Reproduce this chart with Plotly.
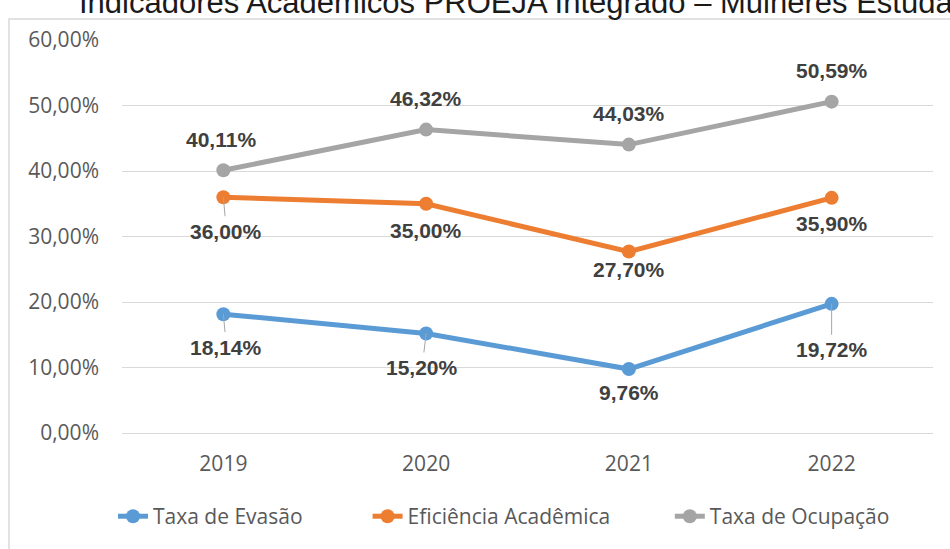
import plotly.graph_objects as go

# Indicadores acadêmicos por ano
anos = ["2019", "2020", "2021", "2022"]
taxa_evasao = [18.14, 15.20, 9.76, 19.72]
eficiencia_academica = [36.00, 35.00, 27.70, 35.90]
taxa_ocupacao = [40.11, 46.32, 44.03, 50.59]

titulo = "Indicadores Acadêmicos PROEJA Integrado – Mulheres Estudantes"

series = [
    ("Taxa de Evasão", taxa_evasao, "#5B9BD5"),
    ("Eficiência Acadêmica", eficiencia_academica, "#ED7D31"),
    ("Taxa de Ocupação", taxa_ocupacao, "#A5A5A5"),
]

# label placement per series: (x offset px, y offset px, leader line)
label_offsets = {
    "Taxa de Evasão": [(3, 33, True), (-4, 34, True), (0, 23, False), (0, 46, True)],
    "Eficiência Acadêmica": [(3, 34, True), (0, 27, False), (0, 18, False), (0, 26, False)],
    "Taxa de Ocupação": [(-2, -31, False), (0, -31, False), (0, -31, False), (0, -31, False)],
}
# extra room after each legend entry (non-breaking spaces)
legend_pad = {"Taxa de Evasão": 11, "Eficiência Acadêmica": 10, "Taxa de Ocupação": 0}

AXIS_FONT = dict(family="Open Sans", size=21, color="#595959")


def fmt_pct(v):
    return f"{v:.2f}".replace(".", ",") + "%"


fig = go.Figure()
annotations = []
for nome, valores, cor in series:
    fig.add_trace(go.Scatter(
        x=anos, y=valores, name=nome + "\u00a0" * legend_pad[nome],
        mode="lines+markers",
        line=dict(color=cor, width=5),
        marker=dict(color=cor, size=14),
        cliponaxis=False,
    ))
    # category index as annotation x so the year text is not read as a number
    for idx, (v, (dx, dy, leader)) in enumerate(zip(valores, label_offsets[nome])):
        base = dict(
            x=idx, y=v, xref="x", yref="y", text="<b>" + fmt_pct(v) + "</b>",
            font=dict(family="Liberation Sans", size=21, color="#404040"),
        )
        if leader:
            annotations.append(dict(
                base, showarrow=True, ax=dx, ay=dy, arrowhead=0,
                arrowwidth=1, arrowcolor="#A6A6A6", standoff=0,
                borderpad=3,
            ))
        else:
            annotations.append(dict(base, showarrow=False, xshift=dx, yshift=-dy))

annotations.append(dict(
    text=titulo, xref="paper", yref="paper", x=(77 - 122) / 811, y=1 + (40 - 22) / 395,
    xanchor="left", yanchor="bottom", showarrow=False,
    font=dict(family="Liberation Sans", size=31, color="#1a1a1a"),
))

fig.update_layout(
    width=950, height=549,
    margin=dict(l=122, r=17, t=40, b=114),
    paper_bgcolor="white", plot_bgcolor="white",
    separators=",.",
    showlegend=True,
    legend=dict(
        orientation="h", x=(113 - 122) / 811, xanchor="left",
        y=(435 - 519) / 395, yanchor="middle",
        font=AXIS_FONT,
        itemwidth=30,
    ),
    annotations=annotations,
    shapes=[dict(
        type="rect", xref="paper", yref="paper",
        x0=(9 - 122) / 811, x1=1.2, y0=-0.5, y1=1 + (40 - 19) / 395,
        line=dict(color="#D9D9D9", width=1.5), layer="below",
    )],
)

fig.update_xaxes(
    type="category", range=[-0.5, 3.5], autorange=False,
    showgrid=False, showline=True, linecolor="#D9D9D9",
    linewidth=1, ticks="", ticklabelstandoff=12,
    tickfont=AXIS_FONT,
)
fig.update_yaxes(
    range=[0, 60], autorange=False, dtick=10, tickformat=".2f", ticksuffix="%",
    showgrid=True, gridcolor="#D9D9D9", gridwidth=1,
    zeroline=False, showline=False, ticks="", ticklabelstandoff=22,
    tickfont=AXIS_FONT,
)

fig.write_html("out.html")
